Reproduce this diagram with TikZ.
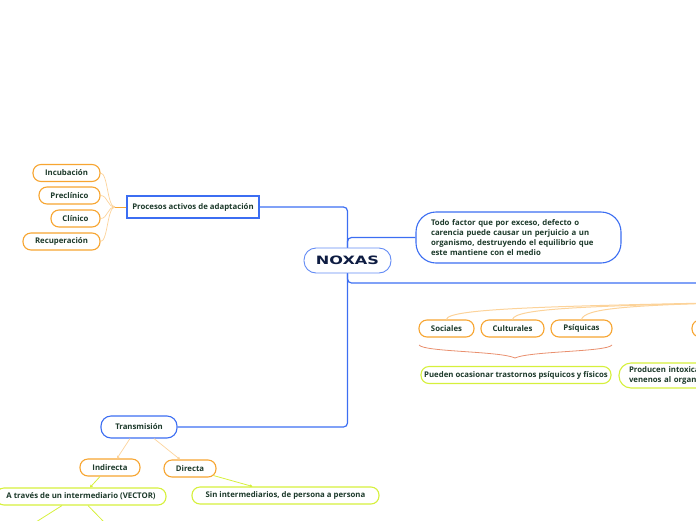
\documentclass[tikz,border=0pt]{standalone}
\usepackage{fontspec}
\setmainfont{Open Sans}
\newfontfamily\wide{DejaVu Sans}
\usetikzlibrary{calc,arrows.meta}
\definecolor{bl}{HTML}{3C6EF2}
\definecolor{orn}{HTML}{F7A531}
\definecolor{lorn}{HTML}{FCD39A}
\definecolor{yg}{HTML}{D6F03C}
\definecolor{coral}{HTML}{E9906F}
\definecolor{tx}{HTML}{1D3A2B}
\definecolor{navy}{HTML}{0E1C42}
\tikzset{
  every node/.style={font=\fontsize{7.8}{10}\selectfont\bfseries, text=tx, inner sep=0pt},
  onode/.style={draw=orn, line width=1.1pt, fill=white, rounded corners=8pt, minimum height=17pt},
  bnode/.style={draw=bl, line width=1.1pt, fill=white, rounded corners=10pt, minimum height=22pt},
  ynode/.style={draw=yg, line width=1.1pt, fill=white, rounded corners=8pt, minimum height=17pt},
  bline/.style={draw=bl, line width=1.2pt, rounded corners=4pt},
  oline/.style={draw=lorn, line width=0.7pt},
  ostub/.style={draw=orn, line width=1pt},
  yline/.style={draw=yg, line width=0.8pt},
  tip/.style={-{Triangle[length=2.5pt,width=3pt]}}
}
\begin{document}
\begin{tikzpicture}[x=1pt,y=-1pt]
\clip (0,0) rectangle (696,520);
\useasboundingbox (0,0) rectangle (696,520);
% main node
\node[draw=bl!80, line width=0.9pt, fill=white, rounded corners=12pt, minimum width=87pt, minimum height=25pt, text=navy] (nox) at (347.5,260.5) {\scalebox{1.4}[1]{\wide\fontsize{11.5}{11.5}\selectfont\bfseries NOXAS}};
% Procesos
\node[draw=bl, line width=1.1pt, fill=white, minimum width=132pt, minimum height=22pt] (proc) at (193,207) {Procesos activos de adaptación};
\node[onode, minimum width=67pt] (inc) at (66.5,173) {Incubación};
\node[onode, minimum width=61pt] (pre) at (69.5,195.5) {Preclínico};
\node[onode, minimum width=49pt] (cli) at (75.5,218.5) {Clínico};
\node[onode, minimum width=77pt] (rec) at (61.5,241.5) {Recuperación};
\coordinate (m) at (115,207);
\draw[ostub] (proc.west) -- (m);
\draw[oline] (m) .. controls (107,207) and (108,173) .. (inc.east);
\draw[oline] (m) .. controls (107,207) and (108,195.5) .. (pre.east);
\draw[oline] (m) .. controls (107,207) and (108,218.5) .. (cli.east);
\draw[oline] (m) .. controls (107,207) and (108,241.5) .. (rec.east);
% definition box
\node[draw=bl, line width=1.1pt, fill=white, rounded corners=20pt, text width=175pt, align=left, inner xsep=15pt, minimum height=51pt] (def) at (518.5,237.5) {Todo factor que por exceso, defecto o\\carencia puede causar un perjuicio a un\\organismo, destruyendo el equilibrio que\\este mantiene con el medio};
% Transmision
\node[bnode, minimum width=76pt] (tra) at (139,427) {Transmisión};
% blue spine
\coordinate (rend) at (700,283);
\draw[bline] (nox.north) |- (proc.east);
\draw[bline] (nox.north) |- (def.west);
\draw[bline] (nox.south) |- (rend);
\draw[bline] (nox.south) |- (tra.east);
% right group
\node[onode, minimum width=55pt] (soc) at (446.5,328.5) {Sociales};
\node[onode, minimum width=63pt] (cul) at (512.5,328.5) {Culturales};
\node[onode, minimum width=61pt] (psi) at (581.5,328.5) {Psíquicas};
\node[onode, minimum width=60pt] (oth) at (722,328.5) {};
\coordinate (hub) at (760,302);
\draw[oline, line width=1pt] (hub) .. controls (560,306) and (447,308) .. (soc.north);
\draw[oline, line width=1pt] (hub) .. controls (590,306) and (515,308) .. (cul.north);
\draw[oline, line width=1pt] (hub) .. controls (620,305) and (585,309) .. (psi.north);
\draw[oline, line width=1pt] (hub) .. controls (730,303) and (722,308) .. (oth.north);
\coordinate (br1) at (419,345);
\coordinate (br2) at (515,358);
\coordinate (br3) at (612,345);
\draw[coral, line width=0.8pt] (br1) .. controls (424,352) and (500,351) .. (br2) .. controls (530,351) and (607,352) .. (br3);
\node[ynode, minimum width=190pt] (pue) at (516,375) {Pueden ocasionar trastornos psíquicos y físicos};
\node[ynode, rounded corners=12pt, minimum width=130pt, minimum height=25pt, text width=110pt, align=left, inner xsep=10pt] (pro) at (684,375.5) {Producen intoxicaciones\\venenos al organismo};
% bottom
\node[onode, minimum width=60pt] (ind) at (110,467.5) {Indirecta};
\node[onode, minimum width=52pt] (dir) at (190,468.5) {Directa};
\node[ynode, minimum width=170pt] (vec) at (81,496.5) {A través de un intermediario (VECTOR)};
\node[ynode, minimum width=187pt] (sin) at (285.5,495.5) {Sin intermediarios, de persona a persona};
\draw[oline, tip] ($(tra.south)+(-9,0)$) -- ($(ind.north)+(7,0)$);
\draw[oline, tip] ($(tra.south)+(15,0)$) -- ($(dir.north)+(-10,0)$);
\draw[yline, tip] ($(ind.south)+(-10,0)$) -- ($(vec.north)+(9,0)$);
\draw[yline, tip] ($(dir.south east)+(-3,-2)$) -- ($(sin.north)+(-33,0)$);
\coordinate (v1) at (36,522);
\coordinate (v2) at (104,522);
\draw[yline] ($(vec.south)+(-19,0)$) -- (v1);
\draw[yline] ($(vec.south)+(7,0)$) -- (v2);
\end{tikzpicture}
\end{document}
